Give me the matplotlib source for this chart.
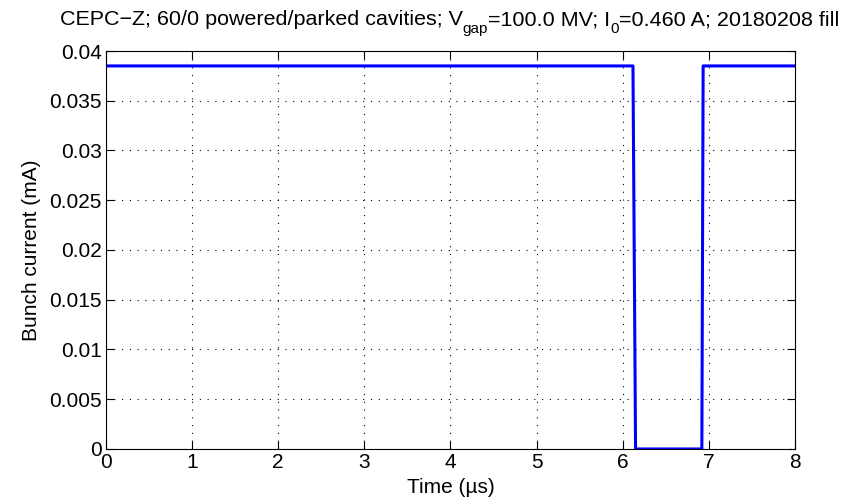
import matplotlib
matplotlib.use('Agg')
import matplotlib.pyplot as plt

# bunch current along the train, gap between ~6.1 and ~6.9 us
time_us = [0.0, 6.12, 6.15, 6.92, 6.935, 8.0]
current_mA = [0.0385, 0.0385, 0.0, 0.0, 0.0385, 0.0385]

xticks = [0, 1, 2, 3, 4, 5, 6, 7, 8]
yticks = [0, 0.005, 0.01, 0.015, 0.02, 0.025, 0.03, 0.035, 0.04]
yticklabels = ['0', '0.005', '0.01', '0.015', '0.02', '0.025', '0.03', '0.035', '0.04']

# title pieces: (text, is_subscript)
title_parts = [
    ('CEPC\u2212Z; 60/0 powered/parked cavities; V', False),
    ('gap', True),
    ('=100.0 MV; I', False),
    ('0', True),
    ('=0.460 A; 20180208 fill', False),
]

plt.rcParams['font.family'] = ['Liberation Sans', 'DejaVu Sans']

fig = plt.figure(figsize=(8.42, 5.03), dpi=100)
ax = fig.add_axes([0.1259, 0.1074, 0.944 - 0.1259, 0.8986 - 0.1074])

ax.plot(time_us, current_mA, color='#0000ff', lw=2.2)

ax.set_xlim(0, 8)
ax.set_ylim(0, 0.04)
ax.set_xticks(xticks)
ax.set_yticks(yticks)
ax.set_yticklabels(yticklabels)
ax.tick_params(direction='in', top=True, right=True, length=6, width=0.8,
               labelsize=15, pad=3)
for s in ax.spines.values():
    s.set_linewidth(0.8)
ax.grid(True, color='black', linestyle=(0, (1, 6)), linewidth=0.8)

ax.set_xlabel('Time (\u00b5s)', fontsize=15, labelpad=4)
ax.set_ylabel('Bunch current (mA)', fontsize=15, labelpad=6)

# matlab-style title with dropped subscripts, built piece by piece
main = None
prev = None
for txt, sub in title_parts:
    if prev is None:
        t = fig.text(0.071, 0.950, txt, fontsize=15.45, va='baseline', ha='left')
        main = t
    elif sub:
        t = ax.annotate(txt, xy=(1, 0), xycoords=(prev, main),
                        xytext=(0, -2.6), textcoords='offset points',
                        fontsize=11, va='baseline', ha='left',
                        annotation_clip=False)
    else:
        t = ax.annotate(txt, xy=(1, 0), xycoords=(prev, main),
                        fontsize=15.45, va='bottom', ha='left',
                        annotation_clip=False)
    prev = t

fig.savefig('out.png', dpi=100)
